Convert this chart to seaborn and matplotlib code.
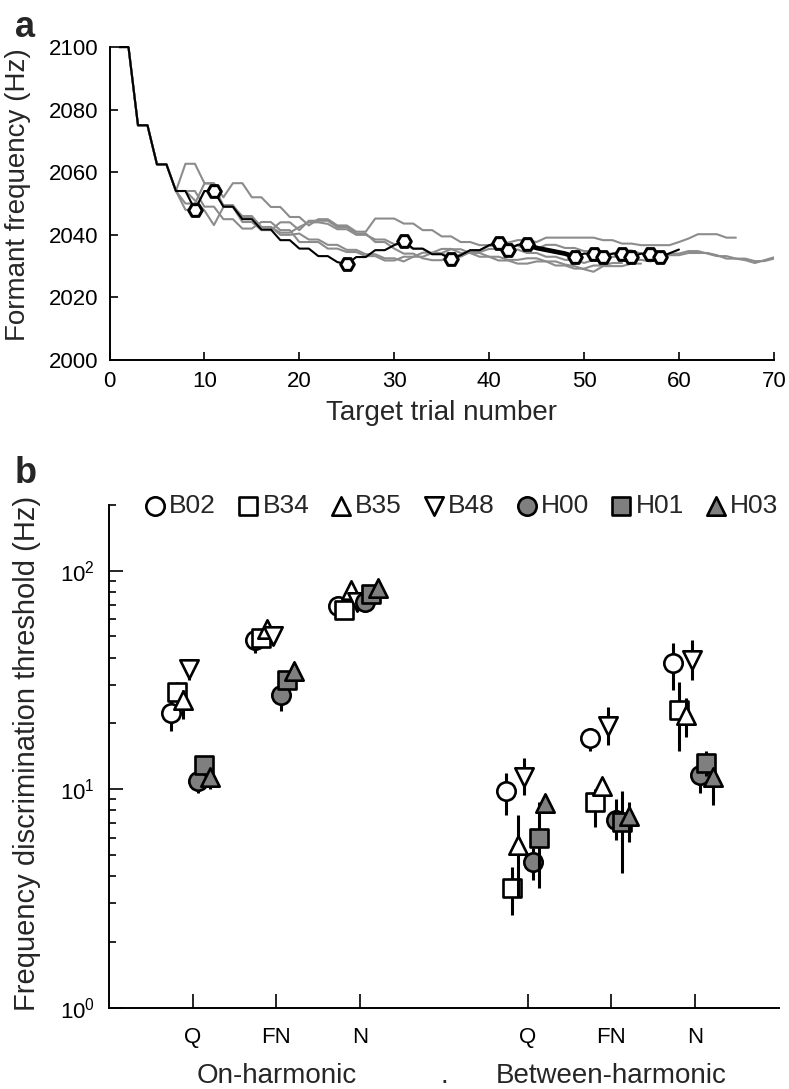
import numpy as np
import pandas as pd
import matplotlib
matplotlib.use("Agg")
import matplotlib.pyplot as plt
import seaborn as sns
from matplotlib.ticker import LogLocator, NullFormatter, FixedLocator

sns.set_theme(style="ticks")
plt.rcParams['font.family'] = ['Liberation Sans', 'DejaVu Sans']
plt.rcParams['mathtext.default'] = 'regular'

# ---------------- Panel a data ----------------
start_hz = [2100, 2100, 2075, 2075, 2062.5, 2062.5, 2054]

black_hz = [2100, 2100, 2075, 2075, 2062.5, 2062.5, 2054, 2054, 2048, 2054,
            2054, 2049, 2049, 2045, 2045, 2041.7, 2041.7, 2038.3, 2038.3, 2035.6,
            2035.6, 2033.2, 2033.2, 2031.3, 2030.6, 2032.9, 2032.9, 2035.1, 2035.1, 2036.7,
            2038.0, 2035.6, 2035.6, 2033.8, 2033.8, 2032.2, 2033.5, 2035.1, 2035.1, 2036.7,
            2037.4, 2035.3, 2036.8, 2037.2, 2035.8, 2035.2, 2034.6, 2034.0, 2033.0, 2034.0,
            2034.0, 2032.8, 2034.0, 2034.0, 2032.8, 2034.0, 2034.0, 2032.8, 2034.1, 2035.3]
reversal_trials = [9, 11, 25, 31, 36, 41, 42, 44, 49, 51, 52, 54, 55, 57, 58]
bold_first, bold_last = 44, 49

gray1_off = [62.7, 62.7, 56.5, 56.5, 52, 56.5, 56.5, 52, 52, 48.9,
             48.9, 45.7, 45.7, 43, 45, 45, 43, 43, 41, 41,
             45.2, 45.2, 45.2, 43.6, 43.6, 41.5, 41.5, 39.5, 39.5, 37.7,
             37.7, 36.7, 36.7, 37.5, 37.5, 38.3, 38.3, 37.7, 39.1, 39.1,
             39.1, 39.1, 39.1, 39.1, 38.3, 38.3, 37.2, 37.2, 36.7, 36.7,
             36.7, 36.7, 37.7, 38.8, 40.2, 40.2, 40.2, 39.1, 39.1]
gray2_off = [54, 51, 47.8, 43.1, 48.9, 48.9, 44.1, 44.1, 41.5, 41.5,
             44, 44, 41.5, 44.5, 44.5, 44.5, 42.5, 42.5, 40.4, 40.4,
             37.7, 37.7, 35.6, 34, 34, 32.5, 31.9, 31.9, 33.5, 33.5,
             35, 35, 36.5, 36.5, 35.3, 35.3, 34.2, 34.2, 33, 33,
             32, 32, 31, 32, 32, 33, 33, 32, 32, 31.5,
             32.4, 33.5, 33.5, 34.2, 34.2, 34.2, 33.5, 32.4, 32.4, 31.9,
             31, 31.9, 32.8]
gray3_off = [50, 50, 56.4, 56.4, 49, 49, 46, 46, 42.5, 42.5,
             40.7, 40.7, 42.5, 44, 44, 43.5, 41.8, 41.8, 40, 40,
             38.5, 38.5, 37, 37, 35.5, 35.5, 34, 34, 33, 33,
             34.5, 34.5, 35.5, 35.5, 36.5, 36.5, 35.5, 35.5, 36.8, 36.8,
             35.8, 35.8, 34.8, 34.8, 34, 34, 35, 35, 34, 33.2,
             33.2, 34, 34, 34.8, 34.8, 34, 33.2, 33.2, 32.4, 32.4,
             31.6, 31.6, 32.4, 33.2]
gray4_off = [48, 48, 54, 54, 49.5, 49.5, 45.5, 45.5, 42.5, 42.5,
             40, 40, 40.4, 38.5, 38.5, 36.8, 36.8, 35.2, 35.2, 33.8,
             33.8, 32.5, 32.5, 31.5, 33, 33, 34.2, 34.2, 35.4, 35.4,
             34.2, 34.2, 33, 33, 32, 32, 32.5, 32.5, 31.5, 31.5,
             30.5, 30, 29, 28.2, 30, 30, 30, 30.8, 30.8]
gray5_off = [54, 54, 49, 49, 45, 45, 42, 42, 44.1, 44.1,
             41.5, 41.5, 37.7, 37.7, 37.7, 35.6, 35.6, 34.5, 34.5, 33.2,
             33.2, 31.8, 31.8, 33, 33, 34.3, 34.3, 35.5, 35.5, 34.2,
             34.2, 33, 33, 31.8, 31.8, 30.8, 30.8, 31.5, 31.5, 30.2,
             30.2, 29.2, 29.2, 30.2, 30.2, 31, 31]
gray_offsets = {'g1': gray1_off, 'g2': gray2_off, 'g3': gray3_off,
                'g4': gray4_off, 'g5': gray5_off}

# ---------------- Panel b data ----------------
listeners = ['B02', 'B34', 'B35', 'B48', 'H00', 'H01', 'H03']
markers = ['o', 's', '^', 'v', 'o', 's', '^']
fills = ['white', 'white', 'white', 'white', '#7f7f7f', '#7f7f7f', '#7f7f7f']
offsets = [-0.26, -0.19, -0.11, -0.04, 0.06, 0.13, 0.21]
cond_pos = [1, 2, 3, 5, 6, 7]
cond_labels = ['Q', 'FN', 'N', 'Q', 'FN', 'N']
group_pos = [2, 4, 6]
group_labels = ['On-harmonic', '.', 'Between-harmonic']

thr = {
    'B02': [22.3, 48.3, 69.2, 9.8, 17.1, 37.8],
    'B34': [28.0, 49.2, 66.3, 3.52, 8.77, 23.1],
    'B35': [25.6, 54.1, 81.8, 5.56, 10.3, 21.9],
    'B48': [35.5, 50.4, 72.3, 11.4, 19.4, 39.1],
    'H00': [10.9, 27.0, 72.3, 4.66, 7.23, 11.6],
    'H01': [12.9, 31.7, 78.5, 5.96, 7.1, 13.2],
    'H03': [11.4, 34.6, 83.4, 8.63, 7.5, 11.4],
}
thr_lo = {
    'B02': [18.4, 42, 64, 7.6, 14.9, 28.5],
    'B34': [25.5, 46, 63, 2.66, 6.74, 14.9],
    'B35': [20.9, 51, 77, 3.22, 9.6, 17.4],
    'B48': [31.7, 47, 69, 9.42, 16.0, 31.7],
    'H00': [9.65, 22.7, 69, 3.84, 5.86, 9.6],
    'H01': [11.8, 29.5, 75, 3.52, 4.12, 11.5],
    'H03': [10.0, 32, 80, 7.8, 5.75, 8.5],
}
thr_hi = {
    'B02': [26.6, 52, 74, 11.8, 19.0, 46.7],
    'B34': [31.1, 52, 69, 4.42, 10.0, 31.1],
    'B35': [28.5, 57, 86, 7.63, 11.0, 26.1],
    'B48': [39.0, 54, 76, 13.9, 23.9, 48.3],
    'H00': [11.8, 30, 76, 5.4, 9.0, 12.6],
    'H01': [13.9, 34, 82, 8.7, 9.77, 14.9],
    'H03': [12.4, 37, 87, 9.4, 8.77, 12.4],
}

# ---------------- Figure ----------------
fig = plt.figure(figsize=(7.89, 10.89), dpi=100)
axa = fig.add_axes([0.1388, 0.6694, 0.842, 0.2874])
axb = fig.add_axes([0.1381, 0.0747, 0.849, 0.4616])

# Panel a
frames = []
for name, off in gray_offsets.items():
    vals = start_hz + [2000 + v for v in off]
    frames.append(pd.DataFrame({'trial': np.arange(1, len(vals) + 1), 'hz': vals, 'run': name}))
df_gray = pd.concat(frames, ignore_index=True)
sns.lineplot(data=df_gray, x='trial', y='hz', units='run', estimator=None,
             color='#8c8c8c', lw=1.5, ax=axa, legend=False)

df_black = pd.DataFrame({'trial': np.arange(1, len(black_hz) + 1), 'hz': black_hz})
sns.lineplot(data=df_black, x='trial', y='hz', color='black', lw=1.5, ax=axa,
             clip_on=False, zorder=3)
bold = df_black[(df_black.trial >= bold_first) & (df_black.trial <= bold_last)]
sns.lineplot(data=bold, x='trial', y='hz', color='black', lw=3.4, ax=axa, zorder=3)
rev = df_black[df_black.trial.isin(reversal_trials)]
sns.scatterplot(data=rev, x='trial', y='hz', marker='H', s=95, color='white',
                edgecolor='black', linewidth=2.2, ax=axa, zorder=5)

axa.set_xlim(0, 70)
axa.set_ylim(2000, 2100)
axa.set_xticks(np.arange(0, 71, 10))
axa.set_yticks(np.arange(2000, 2101, 20))
for s in ['top', 'right']:
    axa.spines[s].set_visible(False)
for s in ['left', 'bottom']:
    axa.spines[s].set_linewidth(1.4)
    axa.spines[s].set_color('black')
axa.tick_params(direction='in', length=6, width=1.2, labelsize=16, colors='black', pad=8)
axa.set_xlabel('Target trial number', fontsize=20, labelpad=6)
axa.set_ylabel('Formant frequency (Hz)', fontsize=20)
axa.yaxis.set_label_coords(-0.118, 0.53)

# Panel b
for i, name in enumerate(listeners):
    xs = [p + offsets[i] for p in cond_pos]
    axb.vlines(xs, thr_lo[name], thr_hi[name], color='black', lw=2.2, zorder=2 + 2 * i)
    sns.scatterplot(x=xs, y=thr[name], marker=markers[i], s=175, color=fills[i],
                    edgecolor='black', linewidth=1.9, ax=axb, zorder=3 + 2 * i,
                    label=name)

axb.set_yscale('log')
axb.set_ylim(1, 200)
axb.set_xlim(0, 8)
axb.set_xticks(cond_pos)
axb.set_xticklabels(cond_labels)
axb.yaxis.set_major_locator(FixedLocator([1, 10, 100]))
axb.yaxis.set_minor_locator(LogLocator(base=10, subs=np.arange(2, 10)))
axb.yaxis.set_minor_formatter(NullFormatter())
for s in ['top', 'right']:
    axb.spines[s].set_visible(False)
for s in ['left', 'bottom']:
    axb.spines[s].set_linewidth(1.4)
    axb.spines[s].set_color('black')
axb.tick_params(axis='x', which='major', direction='in', length=10, width=1.2,
                labelsize=16, colors='black', pad=14)
axb.tick_params(axis='y', which='major', direction='in', length=10, width=1.2,
                labelsize=16, colors='black', pad=10)
axb.tick_params(axis='y', which='minor', direction='in', length=5, width=1.2, colors='black')
axb.set_ylabel('Frequency discrimination threshold (Hz)', fontsize=21)
axb.yaxis.set_label_coords(-0.102, 0.505)

sec = axb.secondary_xaxis('bottom')
sec.set_xticks(group_pos)
sec.set_xticklabels(group_labels)
sec.tick_params(length=0, pad=40, labelsize=20)
sec.spines['bottom'].set_visible(False)

axb.get_legend().remove()
h, l = axb.get_legend_handles_labels()
fig.legend(h, l, loc='center', bbox_to_anchor=(0.583, 0.535), ncol=7, frameon=False,
           handletextpad=0.05, columnspacing=0.7, fontsize=19, borderaxespad=0,
           handlelength=1.0)

fig.text(0.019, 1 - 37 / 1089, 'a', fontsize=26, fontweight='bold', va='baseline', ha='left')
fig.text(0.019, 1 - 483 / 1089, 'b', fontsize=26, fontweight='bold', va='baseline', ha='left')

fig.savefig('out.png', dpi=100)
